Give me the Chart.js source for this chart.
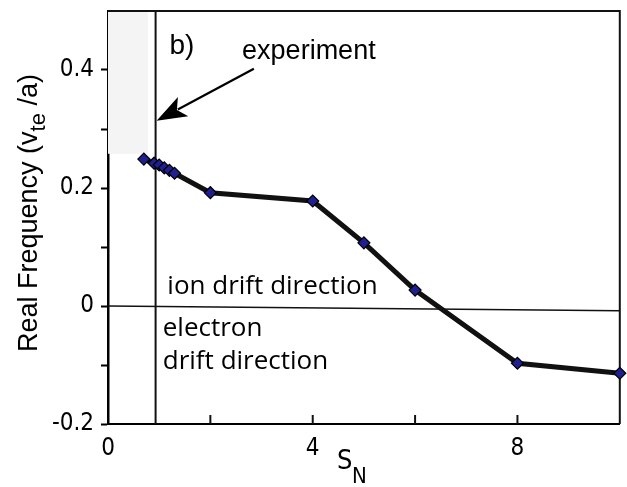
<!DOCTYPE html>
<html>
<head>
<meta charset="utf-8">
<script src="https://cdn.jsdelivr.net/npm/chart.js@4.4.1/dist/chart.umd.min.js"></script>
<style>
  html, body { margin: 0; padding: 0; background: #fff; }
  #wrap { width: 627px; height: 487px; }
</style>
</head>
<body>
<div id="wrap"><canvas id="freq-chart" width="627" height="487"></canvas></div>
<script>
// S_N values and real frequency (v_te/a)
const sN = [0.7, 0.9, 1.0, 1.1, 1.2, 1.3, 2, 4, 5, 6, 8, 10];
const realFreq = [0.249, 0.242, 0.239, 0.234, 0.230, 0.225, 0.192, 0.178, 0.107, 0.027, -0.097, -0.114];

const xTickLabels = { 0: "0", 4: "4", 8: "8" };
const yTickLabels = { 4: "0.4", 2: "0.2", 0: "0", "-2": "-0.2" };

const experimentS = 0.93;
const shadeBox = { x0: 0, x1: 0.78, y0: 0.258, y1: 0.5 };

const narrow = '"Liberation Sans Narrow", "DejaVu Sans Condensed", sans-serif';
const arial = '"Liberation Sans", Arial, sans-serif';
const humanist = '"Open Sans", "Noto Sans", sans-serif';

// background shading, reference lines, frame and annotations
const decorations = {
  id: "decorations",
  beforeDatasetsDraw(chart) {
    const { ctx, chartArea: a, scales: { x, y } } = chart;
    ctx.save();
    ctx.fillStyle = "#f4f4f4";
    const sx0 = x.getPixelForValue(shadeBox.x0), sx1 = x.getPixelForValue(shadeBox.x1);
    const sy1 = y.getPixelForValue(shadeBox.y1), sy0 = y.getPixelForValue(shadeBox.y0);
    ctx.fillRect(sx0, sy1, sx1 - sx0, sy0 - sy1);

    // zero line
    ctx.strokeStyle = "#111";
    ctx.lineWidth = 1.6;
    ctx.beginPath();
    ctx.moveTo(a.left, y.getPixelForValue(0));
    ctx.lineTo(a.right, y.getPixelForValue(-0.008));
    ctx.stroke();

    // experiment marker
    ctx.lineWidth = 2;
    const ex = x.getPixelForValue(experimentS);
    ctx.beginPath();
    ctx.moveTo(ex, a.top);
    ctx.lineTo(ex, a.bottom);
    ctx.stroke();

    // frame
    ctx.beginPath();
    ctx.moveTo(a.left, a.top);
    ctx.lineTo(a.right, a.top);
    ctx.lineTo(a.right, a.bottom);
    ctx.stroke();

    // inward ticks on the S_N axis
    [2, 4, 6, 8].forEach(v => {
      const px = x.getPixelForValue(v);
      ctx.beginPath();
      ctx.moveTo(px, a.bottom);
      ctx.lineTo(px, a.bottom - 9);
      ctx.stroke();
    });
    ctx.restore();
  },
  afterDraw(chart) {
    const { ctx, scales: { x, y } } = chart;
    ctx.save();
    ctx.fillStyle = "#000";
    ctx.textBaseline = "alphabetic";
    ctx.textAlign = "left";

    ctx.font = "28px " + arial;
    ctx.fillText("b)", x.getPixelForValue(1.2), y.getPixelForValue(0.427));
    ctx.font = "27px " + arial;
    ctx.fillText("experiment", x.getPixelForValue(2.62), y.getPixelForValue(0.419));

    // arrow pointing at the experiment line
    const x0 = x.getPixelForValue(2.85), y0 = y.getPixelForValue(0.402);
    const x1 = x.getPixelForValue(0.95), y1 = y.getPixelForValue(0.314);
    const ang = Math.atan2(y1 - y0, x1 - x0);
    const headLen = 30, headW = 11;
    const bx = x1 - headLen * Math.cos(ang), by = y1 - headLen * Math.sin(ang);
    ctx.strokeStyle = "#000";
    ctx.lineWidth = 2.2;
    ctx.beginPath();
    ctx.moveTo(x0, y0);
    ctx.lineTo(bx + 6 * Math.cos(ang), by + 6 * Math.sin(ang));
    ctx.stroke();
    ctx.beginPath();
    ctx.moveTo(x1, y1);
    ctx.lineTo(bx + headW * Math.sin(ang), by - headW * Math.cos(ang));
    ctx.lineTo(bx + 7 * Math.cos(ang), by + 7 * Math.sin(ang));
    ctx.lineTo(bx - headW * Math.sin(ang), by + headW * Math.cos(ang));
    ctx.closePath();
    ctx.fill();

    ctx.font = "26px " + humanist;
    ctx.fillText("ion drift direction", x.getPixelForValue(1.16), y.getPixelForValue(0.02));
    ctx.fillText("electron", x.getPixelForValue(1.07), y.getPixelForValue(-0.051));
    ctx.fillText("drift direction", x.getPixelForValue(1.07), y.getPixelForValue(-0.107));

    // axis titles with subscripts
    ctx.font = "27px " + narrow;
    ctx.fillText("S", 337, 469);
    ctx.font = "22px " + narrow;
    ctx.fillText("N", 352, 483);

    ctx.translate(37, 352);
    ctx.rotate(-Math.PI / 2);
    let cx = 0;
    const part = (txt, size, dy) => {
      ctx.font = size + "px " + arial;
      ctx.fillText(txt, cx, dy);
      cx += ctx.measureText(txt).width;
    };
    part("Real Frequency (v", 27, 0);
    part("te", 22, 8);
    part(" /a)", 27, 0);
    ctx.restore();
  }
};

const config = {
  type: "scatter",
  data: {
    datasets: [{
      data: sN.map((s, i) => ({ x: s, y: realFreq[i] })),
      showLine: true,
      borderColor: "#111",
      borderWidth: 5,
      pointStyle: "rectRot",
      pointRadius: 6,
      pointBackgroundColor: "#1f1f8f",
      pointBorderColor: "#000",
      pointBorderWidth: 1.2,
      clip: false,
    }],
  },
  options: {
    responsive: false,
    animation: false,
    layout: { padding: { top: 11, right: 1, left: 0, bottom: 0 } },
    plugins: { legend: { display: false }, tooltip: { enabled: false } },
    scales: {
      x: {
        type: "linear",
        min: 0,
        max: 10,
        afterFit: s => { s.height = 63; s.paddingLeft = 0; s.paddingRight = 0; },
        border: { display: true, color: "#000", width: 2 },
        grid: { display: false, drawTicks: false },
        ticks: {
          stepSize: 2,
          padding: 10,
          color: "#000",
          font: { family: narrow, size: 24 },
          callback: v => xTickLabels[v] || "",
          maxRotation: 0,
        },
      },
      y: {
        type: "linear",
        min: -0.2,
        max: 0.5,
        afterFit: s => { s.width = 108; s.paddingTop = 0; s.paddingBottom = 0; },
        border: { display: true, color: "#000", width: 2.5 },
        grid: {
          drawOnChartArea: false,
          drawTicks: true,
          tickLength: 7,
          tickWidth: 2,
          tickColor: ctx => (Math.round(ctx.tick.value * 10) === 5 ? "rgba(0,0,0,0)" : "#000"),
        },
        ticks: {
          stepSize: 0.1,
          padding: 7,
          color: "#000",
          font: { family: narrow, size: 24 },
          callback: v => yTickLabels[Math.round(v * 10)] || "",
        },
      },
    },
  },
  plugins: [decorations],
};

new Chart(document.getElementById("freq-chart").getContext("2d"), config);
</script>
</body>
</html>
